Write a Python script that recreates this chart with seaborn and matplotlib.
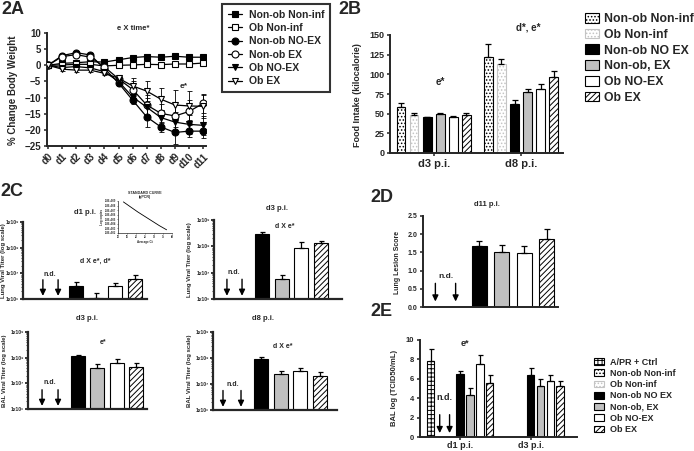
import numpy as np
import pandas as pd
import matplotlib
matplotlib.use("Agg")
import matplotlib.pyplot as plt
import seaborn as sns
from matplotlib.patches import Patch
from matplotlib.lines import Line2D
from matplotlib.ticker import FixedLocator, LogLocator, FuncFormatter, NullFormatter

nan = np.nan

# ---------------- Panel 2A : body weight ----------------
days_a = ["d0", "d1", "d2", "d3", "d4", "d5", "d6", "d7", "d8", "d9", "d10", "d11"]
groups_a = ["Non-ob Non-inf", "Ob Non-inf", "Non-ob NO-EX", "Non-ob EX", "Ob NO-EX", "Ob EX"]
bw_nonob_noninf = [0, 0.6, 0.8, 1.1, 1.0, 1.7, 2.4, 2.7, 2.5, 2.8, 2.5, 2.5]
bw_ob_noninf = [0, 0.1, 0.3, 0.3, -0.2, 0.0, 0.1, 0.3, 0.2, 0.4, 0.4, 0.7]
bw_nonob_noex = [0, 3.0, 3.9, 3.2, -1.0, -5.5, -10.8, -16.0, -19.1, -20.8, -20.4, -20.4]
bw_nonob_ex = [0, 2.7, 3.3, 2.5, -0.5, -4.2, -7.5, -12.3, -14.9, -15.7, -14.3, -11.8]
bw_ob_noex = [0, -0.7, -0.4, -0.8, -2.0, -5.0, -9.8, -13.0, -16.2, -17.6, -18.3, -18.6]
bw_ob_ex = [0, -1.2, -1.5, -1.5, -2.5, -4.0, -6.4, -8.0, -10.5, -12.3, -12.6, -12.7]
sd_nonob_noninf = [0, 0.4, 0.4, 0.4, 0.4, 0.4, 0.4, 0.4, 0.4, 0.4, 0.4, 0.4]
sd_ob_noninf = [0, 0.4, 0.4, 0.4, 0.4, 0.4, 0.4, 0.4, 0.4, 0.4, 0.4, 0.4]
sd_nonob_noex = [0, 0.5, 0.5, 0.5, 0.6, 1.0, 1.2, 3.0, 1.5, 3.5, 1.8, 2.2]
sd_nonob_ex = [0, 0.5, 0.5, 0.5, 0.6, 1.0, 2.5, 3.0, 3.0, 3.5, 3.5, 3.0]
sd_ob_noex = [0, 0.5, 0.5, 0.5, 0.6, 1.0, 2.0, 3.0, 2.5, 3.0, 3.0, 3.0]
sd_ob_ex = [0, 0.5, 0.5, 0.5, 0.6, 1.0, 2.5, 3.0, 3.5, 4.5, 4.5, 3.5]

# ---------------- Panel 2B : food intake ----------------
days_b = ["d3 p.i.", "d8 p.i."]
groups_b = ["Non-ob Non-inf", "Ob Non-inf", "Non-ob NO EX", "Non-ob, EX", "Ob NO-EX", "Ob EX"]
food_d3 = [58, 48.5, 45.5, 49.5, 46, 48]
food_d3_err = [6, 2.5, 0.8, 1.5, 0.7, 2.5]
food_d8 = [122, 113, 62, 77, 81, 96]
food_d8_err = [16, 6.5, 6, 4.5, 7, 8]

# ---------------- Panel 2C : viral titers (log10) ----------------
lung_d1 = [nan, nan, 6.51, 6.04, 6.49, 6.76]
lung_d1_top = [nan, nan, 6.67, 6.24, 6.64, 6.92]
lung_d3 = [nan, nan, 8.46, 6.77, 7.92, 8.11]
lung_d3_top = [nan, nan, 8.55, 6.93, 8.17, 8.21]
bal_titer_d3 = [nan, nan, 8.07, 7.61, 7.78, 7.63]
bal_titer_d3_top = [nan, nan, 8.12, 7.74, 7.93, 7.79]
bal_titer_d8 = [nan, nan, 7.95, 7.38, 7.50, 7.32]
bal_titer_d8_top = [nan, nan, 8.04, 7.51, 7.63, 7.46]
std_ct = [13, 17, 21, 25, 29, 33, 37]
std_logcopies = [8.8, 7.7, 6.6, 5.6, 4.6, 3.6, 2.7]

# ---------------- Panel 2D : lung lesion ----------------
lesion_d11 = [nan, nan, 1.67, 1.50, 1.49, 1.88]
lesion_d11_err = [nan, nan, 0.13, 0.21, 0.18, 0.27]

# ---------------- Panel 2E : BAL TCID50 ----------------
days_e = ["d1 p.i.", "d3 p.i."]
groups_e = ["A/PR + Ctrl"] + groups_b
bal_d1 = [7.83, nan, nan, 6.47, 4.38, 7.48, 5.52]
bal_d1_err = [1.27, nan, nan, 0.30, 0.69, 0.93, 0.86]
bal_d3 = [nan, nan, nan, 6.44, 5.26, 5.79, 5.22]
bal_d3_err = [nan, nan, nan, 0.63, 0.69, 0.59, 0.54]

# ---------------- styles ----------------
STYLE = {
    "A/PR + Ctrl": dict(fc="white", ec="black", hatch="++++"),
    "Non-ob Non-inf": dict(fc="white", ec="black", hatch="....."),
    "Ob Non-inf": dict(fc="white", ec="#c4c4c4", hatch="....."),
    "Non-ob NO EX": dict(fc="black", ec="black", hatch=""),
    "Non-ob, EX": dict(fc="#c0c0c0", ec="black", hatch=""),
    "Ob NO-EX": dict(fc="white", ec="black", hatch=""),
    "Ob EX": dict(fc="white", ec="black", hatch="//////"),
}
KEY_COLORS = dict(zip(groups_e, sns.color_palette("husl", len(groups_e))))
COLOR_TO_GROUP = {tuple(np.round(c, 3)): g for g, c in KEY_COLORS.items()}

sns.set_style("ticks")
plt.rcParams["font.family"] = ["Liberation Sans", "DejaVu Sans"]
plt.rcParams["font.weight"] = "bold"
plt.rcParams["axes.labelweight"] = "bold"
plt.rcParams["axes.titleweight"] = "bold"
plt.rcParams["hatch.linewidth"] = 0.7

W, H = 694, 451
fig = plt.figure(figsize=(W / 100, H / 100), dpi=100)


def add_ax(l, t, r, b):
    return fig.add_axes([l / W, 1 - b / H, (r - l) / W, (b - t) / H])


def ftext(x, y, s, size, **kw):
    kw.setdefault("ha", "center")
    kw.setdefault("va", "center")
    kw.setdefault("fontweight", "bold")
    fig.text(x / W, 1 - y / H, s, fontsize=size, **kw)


def gp_style(ax, lw=1.4, labelsize=6, ticklen=2.5):
    sns.despine(ax=ax)
    ax.spines["left"].set_linewidth(lw)
    ax.spines["bottom"].set_linewidth(lw)
    ax.tick_params(axis="both", width=lw * 0.8, length=ticklen, labelsize=labelsize, pad=1.5)
    ax.set_xlabel("")
    ax.set_ylabel("")


def finish_bars(ax, d, xcol, xorder, cap):
    """Restyle seaborn's bars (identified by their key colour) and add upper error bars."""
    for bar in list(ax.patches):
        key = tuple(np.round(bar.get_facecolor()[:3], 3))
        g = COLOR_TO_GROUP.get(key)
        if g is None:
            continue
        xc = bar.get_x() + bar.get_width() / 2
        if xcol == "group":
            row = d[d.group == g].iloc[0]
        else:
            xi = int(round(xc))
            row = d[(d[xcol] == xorder[xi]) & (d.group == g)].iloc[0]
        st = STYLE[g]
        bar.set_facecolor(st["fc"])
        bar.set_edgecolor(st["ec"])
        bar.set_hatch(st["hatch"])
        bar.set_linewidth(0.8)
        ax.errorbar(xc, row.value, yerr=[[0], [row.err]], fmt="none", ecolor="black",
                    elinewidth=0.9, capsize=cap, capthick=0.9, zorder=1)


def grouped_bars(ax, df, xorder, hue_order, width, gap, cap=2.0):
    d = df.dropna(subset=["value"])
    sns.barplot(data=d, x="day", y="value", hue="group", order=xorder, hue_order=hue_order,
                palette=KEY_COLORS, width=width, gap=gap, errorbar=None, legend=False,
                saturation=1, ax=ax)
    finish_bars(ax, d, "day", xorder, cap)


def single_bars(ax, groups, values, errs, width, cap=2.0):
    d = pd.DataFrame({"group": groups, "value": values, "err": errs}).dropna(subset=["value"])
    sns.barplot(data=d, x="group", y="value", hue="group", order=groups, hue_order=list(d.group),
                palette=KEY_COLORS, width=width, errorbar=None, legend=False, saturation=1, ax=ax)
    finish_bars(ax, d, "group", groups, cap)


def nd_arrows(ax, xs, y0, y1):
    for xp in xs:
        ax.annotate("", xy=(xp, y1), xytext=(xp, y0),
                    xycoords=("data", "axes fraction"), textcoords=("data", "axes fraction"),
                    arrowprops=dict(arrowstyle="-|>,head_length=0.45,head_width=0.22",
                                    color="black", lw=1.0, shrinkA=0, shrinkB=0,
                                    mutation_scale=8))


# ================= 2A =================
ax_a = add_ax(46.6, 33, 206, 146)
xa = np.arange(len(days_a))
series_a = [
    (bw_nonob_noninf, sd_nonob_noninf, "s", "black"),
    (bw_ob_noninf, sd_ob_noninf, "s", "white"),
    (bw_nonob_noex, sd_nonob_noex, "o", "black"),
    (bw_nonob_ex, sd_nonob_ex, "o", "white"),
    (bw_ob_noex, sd_ob_noex, "v", "black"),
    (bw_ob_ex, sd_ob_ex, "v", "white"),
]
handles_a = []
for name, (vals, errs, mk, fcol) in zip(groups_a, series_a):
    ax_a.errorbar(xa, vals, yerr=errs, fmt="none", ecolor="black", elinewidth=0.6,
                  capsize=1.8, capthick=0.6, zorder=2)
    sns.lineplot(x=xa, y=vals, ax=ax_a, color="black", lw=0.9, marker=mk, markersize=5,
                 markerfacecolor=fcol, markeredgecolor="black", markeredgewidth=0.8, zorder=3)
    handles_a.append(Line2D([], [], color="black", lw=0.9, marker=mk, markersize=5,
                            markerfacecolor=fcol, markeredgecolor="black", markeredgewidth=0.8))
ax_a.set_xlim(-0.1, 11.2)
ax_a.set_ylim(-25, 10)
ax_a.set_yticks(np.arange(-25, 11, 5))
ax_a.set_xticks(xa)
ax_a.set_xticklabels(days_a, rotation=45, ha="right", rotation_mode="anchor")
gp_style(ax_a, labelsize=7)
ftext(13, 90, "% Change Body Weight", 7, rotation=90)
ftext(133, 29, "e X time*", 5.5)
ftext(184, 86, "e*", 6)
ftext(1, 10, "2A", 13, ha="left", fontweight="heavy")
leg_a = fig.legend(handles_a, groups_a, loc="upper left", bbox_to_anchor=(222 / W, 1 - 4 / H),
                   frameon=True, fancybox=False, edgecolor="black",
                   prop=dict(weight="bold", size=7.5), handlelength=1.4, labelspacing=0.32,
                   borderpad=0.55, handletextpad=0.6, borderaxespad=0)
leg_a.get_frame().set_linewidth(1.5)

# ================= 2B =================
rows = []
for day, vals, errs in [(days_b[0], food_d3, food_d3_err), (days_b[1], food_d8, food_d8_err)]:
    for g, v, e in zip(groups_b, vals, errs):
        rows.append(dict(day=day, group=g, value=v, err=e))
df_b = pd.DataFrame(rows)
ax_b = add_ax(390, 35, 563, 153)
grouped_bars(ax_b, df_b, days_b, groups_b, width=0.9, gap=0.33, cap=2.2)
ax_b.set_xlim(-0.5, 1.48)
ax_b.set_ylim(0, 150)
ax_b.set_yticks(np.arange(0, 151, 25))
gp_style(ax_b, labelsize=6.5)
ax_b.tick_params(axis="x", labelsize=8)
ftext(357, 95, "Food Intake (kilocalorie)", 6.5, rotation=90)
ftext(440, 82, "e*", 7)
ftext(528, 28, "d*, e*", 7)
ftext(338, 10, "2B", 13, ha="left", fontweight="heavy")
handles_b = [Patch(facecolor=STYLE[g]["fc"], edgecolor=STYLE[g]["ec"], hatch=STYLE[g]["hatch"],
                   linewidth=0.8) for g in groups_b]
fig.legend(handles_b, groups_b, loc="upper left", bbox_to_anchor=(580 / W, 1 - 8 / H),
           frameon=False, prop=dict(weight="bold", size=8.8), handlelength=1.15,
           handleheight=0.85, labelspacing=0.3, handletextpad=0.45, borderaxespad=0)

# ================= 2C =================
ftext(0, 191, "2C", 13, ha="left", fontweight="heavy")
panels_c = [
    ((23, 222, 147, 299), lung_d1, lung_d1_top, (-0.72, 5.64), (0.3, 1.08),
     "d1 p.i.", (85, 212), "d X e*, d*", (95, 261), (50, 274), "Lung Viral Titer (log scale)", 4),
    ((214, 220, 342, 299), lung_d3, lung_d3_top, (-0.46, 6.07), (0.2, 0.97),
     "d3 p.i.", (277, 208), "d X e*", (285, 227), (234, 273), "Lung Viral Titer (log scale)", 189),
    ((28, 332, 147, 409), bal_titer_d3, bal_titer_d3_top, (-0.54, 5.56), (0.18, 1.0),
     "d3 p.i.", (87, 319), "e*", (103, 342), (50, 383), "BAL Viral Titer (log scale)", 5),
    ((213, 332, 337, 410), bal_titer_d8, bal_titer_d8_top, (-0.46, 5.87), (0.05, 0.97),
     "d8 p.i.", (263, 319), "d X e*", (283, 346), (233, 385), "BAL Viral Titer (log scale)", 189),
]
for (box, vals, tops, xl, arr, title, txy, note, nxy, ndxy, ylab, ylx) in panels_c:
    ax = add_ax(*box)
    v = np.power(10.0, np.array(vals))
    e = np.power(10.0, np.array(tops)) - v
    single_bars(ax, groups_b, v, e, width=0.72, cap=1.8)
    ax.set_yscale("log")
    ax.set_ylim(1e6, 1e9)
    ax.set_xlim(*xl)
    ax.yaxis.set_major_locator(FixedLocator([1e6, 1e7, 1e8, 1e9]))
    ax.yaxis.set_major_formatter(FuncFormatter(
        lambda val, p: "1x10" + "⁰¹²³⁴⁵⁶⁷⁸⁹"[int(round(np.log10(val)))]))
    ax.yaxis.set_minor_locator(LogLocator(base=10, subs=np.arange(2, 10), numticks=20))
    ax.yaxis.set_minor_formatter(NullFormatter())
    gp_style(ax, lw=1.6, labelsize=3.6, ticklen=2)
    ax.tick_params(axis="y", which="major", pad=1)
    ax.tick_params(axis="y", which="minor", length=1.3, width=0.6)
    ax.set_xticks([])
    nd_arrows(ax, arr, 0.25, 0.04)
    ftext(txy[0], txy[1], title, 5.5)
    ftext(nxy[0], nxy[1], note, 5)
    ftext(ndxy[0], ndxy[1], "n.d.", 5)
    ftext(ylx, (box[1] + box[3]) / 2, ylab, 4.3, rotation=90)

# inset standard curve
ax_in = add_ax(118, 201, 172, 233)
sns.lineplot(x=std_ct, y=std_logcopies, ax=ax_in, color="black", lw=0.6)
ax_in.set_xlim(10, 40)
ax_in.set_ylim(2, 9)
ax_in.set_xticks([10, 15, 20, 25, 30, 35, 40])
ax_in.set_yticks(np.arange(2, 10))
ax_in.yaxis.set_major_formatter(FuncFormatter(lambda val, p: "1.0E+0%02d" % int(val)))
sns.despine(ax=ax_in)
for s in ["left", "bottom"]:
    ax_in.spines[s].set_linewidth(0.5)
ax_in.tick_params(labelsize=1.8, length=1, width=0.4, pad=0.5)
ax_in.set_title("STANDARD CURVE\n(qPCR)", fontsize=2.6, pad=2)
ax_in.set_xlabel("Average Ct", fontsize=2.2, labelpad=0.5)
ax_in.set_ylabel("Log copies", fontsize=2.2, labelpad=0.5)

# ================= 2D =================
ax_d = add_ax(423, 216, 558, 307)
single_bars(ax_d, groups_b, lesion_d11, lesion_d11_err, width=0.67, cap=2.2)
ax_d.set_xlim(-0.5, 5.5)
ax_d.set_ylim(0, 2.5)
ax_d.set_yticks(np.arange(0, 2.51, 0.5))
ax_d.yaxis.set_major_formatter(FuncFormatter(lambda val, p: "%.1f" % val))
gp_style(ax_d, lw=1.4, labelsize=5)
ax_d.set_xticks([])
nd_arrows(ax_d, (0.05, 0.95), 0.26, 0.06)
ftext(487, 204, "d11 p.i.", 5.5)
ftext(446, 277, "n.d.", 6)
ftext(398, 262, "Lung Lesion Score", 5, rotation=90)
ftext(370, 198, "2D", 13, ha="left", fontweight="heavy")

# ================= 2E =================
rows = []
for day, vals, errs in [(days_e[0], bal_d1, bal_d1_err), (days_e[1], bal_d3, bal_d3_err)]:
    for g, v, e in zip(groups_e, vals, errs):
        rows.append(dict(day=day, group=g, value=v, err=e))
df_e = pd.DataFrame(rows)
ax_e = add_ax(420, 340, 577, 437)
grouped_bars(ax_e, df_e, days_e, groups_e, width=0.98, gap=0.25, cap=1.8)
ax_e.set_xlim(-0.57, 1.66)
ax_e.set_ylim(0, 10)
ax_e.set_yticks(np.arange(0, 11, 2))
gp_style(ax_e, lw=1.4, labelsize=5.5)
ax_e.tick_params(axis="x", labelsize=6.5, length=2, pad=0.8)
nd_arrows(ax_e, (-0.29, -0.15), 0.23, 0.04)
ftext(465, 343, "e*", 6.5)
ftext(444, 398, "n.d.", 6.5)
ftext(395, 388, "BAL log (TCID50/mL)", 5.5, rotation=90)
ftext(370, 311, "2E", 13, ha="left", fontweight="heavy")
handles_e = [Patch(facecolor=STYLE[g]["fc"], edgecolor=STYLE[g]["ec"], hatch=STYLE[g]["hatch"],
                   linewidth=0.8) for g in groups_e]
fig.legend(handles_e, groups_e, loc="upper left", bbox_to_anchor=(590 / W, 1 - 354 / H),
           frameon=False, prop=dict(weight="bold", size=6.5), handlelength=1.1,
           handleheight=0.8, labelspacing=0.25, handletextpad=0.75, borderaxespad=0)

fig.savefig("out.png", dpi=100)
